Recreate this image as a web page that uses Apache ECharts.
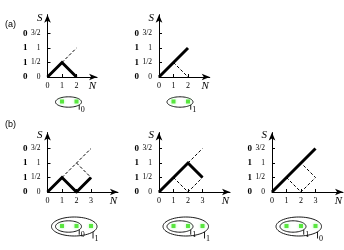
<!DOCTYPE html>
<html><head><meta charset="utf-8">
<script src="https://cdn.jsdelivr.net/npm/echarts@6/dist/echarts.min.js"></script>
<style>html,body{margin:0;padding:0;background:#fff}#c{width:344px;height:250px}</style>
</head><body><div id="c"></div>
<script>
// ---- data ----
const sTicks = [0, 0.5, 1, 1.5];
const sLabels = ['0', '1/2', '1', '3/2'];
const boldLabels = ['0', '1', '1', '0'];
const nTicksA = [0, 1, 2];
const nTicksB = [0, 1, 2, 3];
const a1Thick = [[0, 0], [1, 0.5], [2, 0]];
const a1Dashed = [[[1, 0.5], [2, 1]]];
const a2Thick = [[0, 0], [2, 1]];
const a2Dashed = [[[1, 0.5], [2, 0]]];
const b1Thick = [[0, 0], [1, 0.5], [2, 0], [3, 0.5]];
const b1Dashed = [[[1, 0.5], [3, 1.5]], [[2, 1], [3, 0.5]]];
const b2Thick = [[0, 0], [2, 1], [3, 0.5]];
const b2Dashed = [[[1, 0.5], [2, 0], [3, 0.5]], [[2, 1], [3, 1.5]]];
const b3Thick = [[0, 0], [3, 1.5]];
const b3Dashed = [[[1, 0.5], [2, 0], [3, 0.5], [2, 1]]];
const dotsA = [1, 2];
const dotsB = [1, 2, 3];
const a1Groups = [{from: 1, to: 2, level: 0, label: '0'}];
const a2Groups = [{from: 1, to: 2, level: 0, label: '1'}];
const b1Groups = [{from: 1, to: 2, level: 0, label: '0'}, {from: 1, to: 3, level: 1, label: '1'}];
const b2Groups = [{from: 1, to: 2, level: 0, label: '1'}, {from: 1, to: 3, level: 1, label: '1'}];
const b3Groups = [{from: 1, to: 2, level: 0, label: '1'}, {from: 1, to: 3, level: 1, label: '0'}];

// ---- layout ----
const UX = 14.5, UY = 29;
const panels = [
  {ox: 47.5, oy: 77, xMax: 3.42, yMax: 2.15, nTicks: nTicksA, thick: a1Thick, dashed: a1Dashed, dots: dotsA, groups: a1Groups, dotDy: 24.5},
  {ox: 159, oy: 77, xMax: 3.5, yMax: 2.15, nTicks: nTicksA, thick: a2Thick, dashed: a2Dashed, dots: dotsA, groups: a2Groups, dotDy: 24.5},
  {ox: 47.5, oy: 192, xMax: 4.86, yMax: 2.05, nTicks: nTicksB, thick: b1Thick, dashed: b1Dashed, dots: dotsB, groups: b1Groups, dotDy: 34},
  {ox: 159, oy: 192, xMax: 4.9, yMax: 2.05, nTicks: nTicksB, thick: b2Thick, dashed: b2Dashed, dots: dotsB, groups: b2Groups, dotDy: 34},
  {ox: 272, oy: 192, xMax: 4.9, yMax: 2.05, nTicks: nTicksB, thick: b3Thick, dashed: b3Dashed, dots: dotsB, groups: b3Groups, dotDy: 34}
];
const SERIF = '"Liberation Serif","DejaVu Serif",serif';
const grid = [], xAxis = [], yAxis = [], series = [];

panels.forEach((p, i) => {
  const w = p.xMax * UX, h = p.yMax * UY;
  const gPlot = grid.length;
  grid.push({left: p.ox, top: p.oy - h, width: w, height: h});
  const gDot = grid.length;
  const dotY = p.oy + p.dotDy;
  grid.push({left: p.ox, top: dotY - 15, width: w, height: 30});
  const xPlot = xAxis.length;
  xAxis.push({
    type: 'value', gridIndex: gPlot, min: 0, max: p.xMax,
    name: 'N', nameLocation: 'end', nameGap: -1,
    nameTextStyle: {fontFamily: SERIF, fontStyle: 'italic', fontSize: 11, color: '#000', align: 'right', verticalAlign: 'top', padding: [4, 0, 0, 0]},
    axisLine: {show: true, onZero: false, symbol: ['none', 'arrow'], symbolSize: [5, 8], lineStyle: {color: '#000', width: 1}},
    axisTick: {show: true, inside: true, length: 3, customValues: p.nTicks.filter(v => v > 0), lineStyle: {color: '#000'}},
    axisLabel: {customValues: p.nTicks, fontFamily: SERIF, fontSize: 8, color: '#000', margin: 5},
    splitLine: {show: false}
  });
  const xDot = xAxis.length;
  xAxis.push({type: 'value', gridIndex: gDot, min: 0, max: p.xMax, show: false});
  const yPlot = yAxis.length;
  yAxis.push({
    type: 'value', gridIndex: gPlot, min: 0, max: p.yMax,
    name: 'S', nameLocation: 'end', nameGap: -3,
    nameTextStyle: {fontFamily: SERIF, fontStyle: 'italic', fontSize: 11, color: '#000', align: 'right', verticalAlign: 'middle', padding: [0, 5, 0, 0]},
    axisLine: {show: true, onZero: false, symbol: ['none', 'arrow'], symbolSize: [5, 8], lineStyle: {color: '#000', width: 1}},
    axisTick: {show: true, inside: true, length: 3, customValues: sTicks.filter(v => v > 0), lineStyle: {color: '#000'}},
    axisLabel: {customValues: sTicks, formatter: v => sLabels[sTicks.indexOf(v)], fontFamily: SERIF, fontSize: 7.5, color: '#000', margin: 7},
    splitLine: {show: false}
  });
  const yBold = yAxis.length;
  yAxis.push({
    type: 'value', gridIndex: gPlot, min: 0, max: p.yMax, position: 'left', offset: 13,
    axisLine: {show: false}, axisTick: {show: false}, splitLine: {show: false},
    axisLabel: {customValues: sTicks, formatter: v => boldLabels[sTicks.indexOf(v)], fontFamily: SERIF, fontWeight: 'bold', fontSize: 9, color: '#000', margin: 7}
  });
  const yDot = yAxis.length;
  yAxis.push({type: 'value', gridIndex: gDot, min: -1, max: 1, show: false});

  p.dashed.forEach(seg => series.push({
    type: 'line', xAxisIndex: xPlot, yAxisIndex: yPlot, data: seg, symbol: 'none', silent: true, z: 2,
    lineStyle: {color: '#000', width: 1, type: [3, 2]}
  }));
  series.push({
    type: 'line', xAxisIndex: xPlot, yAxisIndex: yPlot, data: p.thick, symbol: 'none', silent: true, z: 3,
    lineStyle: {color: '#000', width: 3, join: 'miter'}
  });
  series.push({
    type: 'scatter', xAxisIndex: xDot, yAxisIndex: yDot, data: p.dots.map(n => [n, 0]), symbol: 'rect', symbolSize: 4,
    itemStyle: {color: '#3ee01e', shadowBlur: 3, shadowColor: '#8f8'}, silent: true, z: 3
  });
  const groups = p.groups;
  series.push({
    type: 'custom', xAxisIndex: xDot, yAxisIndex: yDot, silent: true, z: 2,
    data: groups.map(g => [g.from, g.to, g.level]),
    renderItem: (params, api) => {
      const g = groups[params.dataIndex];
      const p1 = api.coord([g.from, 0]), p2 = api.coord([g.to, 0]);
      let left, right, ry;
      if (g.level === 0) { left = p1[0] - 6.5; right = p2[0] + 5; ry = p.dotDy > 30 ? 5.7 : 5.2; }
      else { left = p1[0] - 10.5; right = p2[0] + 6; ry = 9.5; }
      const cx = (left + right) / 2, rx = (right - left) / 2, cy = p1[1] + 0.5;
      const pts = [];
      for (let k = 0; k < 60; k++) { const t = k / 60 * 2 * Math.PI; pts.push([cx + rx * Math.cos(t), cy + ry * Math.sin(t)]); }
      const th = 0.6;
      const tx = cx + rx * Math.cos(th), ty0 = cy + ry * Math.sin(th), ty1 = cy + ry + 2.5;
      return {type: 'group', children: [
        {type: 'polygon', shape: {points: pts}, style: {fill: 'none', stroke: '#000', lineWidth: 0.9}},
        {type: 'line', shape: {x1: tx, y1: ty0, x2: tx, y2: ty1}, style: {stroke: '#000', lineWidth: 0.9}},
        {type: 'text', x: tx + 1.5, y: ty1 - 4, style: {text: g.label, fontFamily: SERIF, fontSize: 8, fill: '#000', align: 'left', verticalAlign: 'top'}}
      ]};
    }
  });
});

const chart = echarts.init(document.getElementById('c'), null, {renderer: 'canvas'});
chart.setOption({
  animation: false,
  grid, xAxis, yAxis, series,
  graphic: [
    {type: 'text', left: 5, top: 20, style: {text: '(a)', fontFamily: '"Liberation Sans",Arial,sans-serif', fontSize: 9, fill: '#000'}},
    {type: 'text', left: 5, top: 120, style: {text: '(b)', fontFamily: '"Liberation Sans",Arial,sans-serif', fontSize: 9, fill: '#000'}}
  ]
});
</script></body></html>
